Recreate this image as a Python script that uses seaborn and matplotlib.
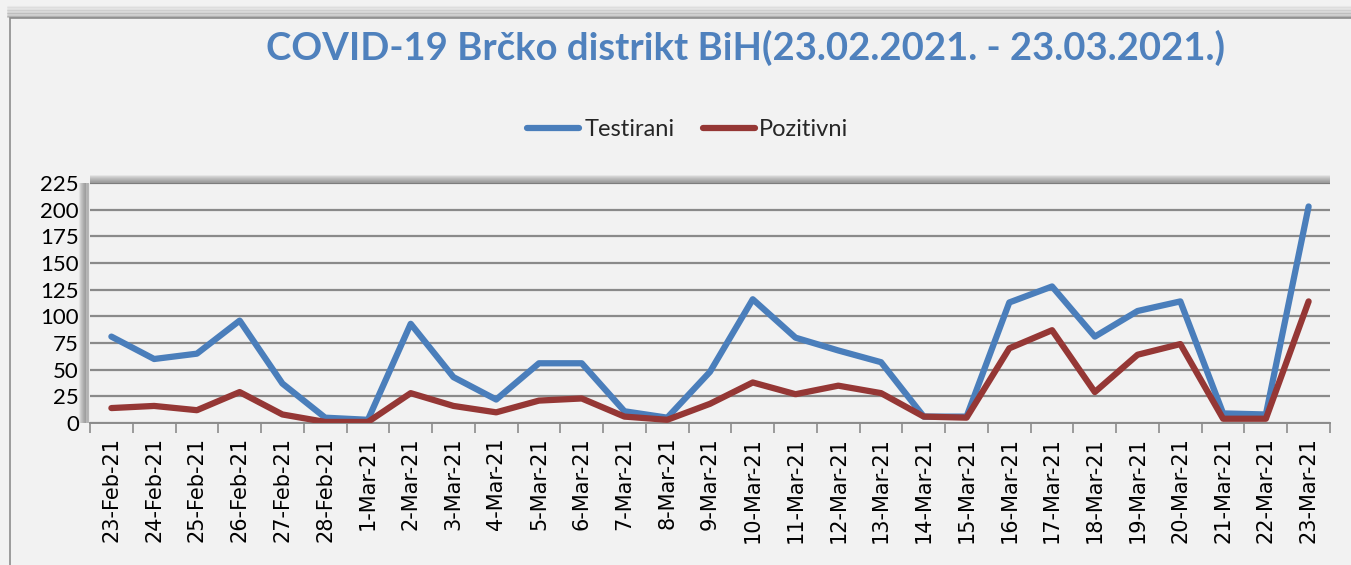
import numpy as np
import pandas as pd
import matplotlib.pyplot as plt
import matplotlib.patches as mpatches
import seaborn as sns

# data
dates = ["23-Feb-21", "24-Feb-21", "25-Feb-21", "26-Feb-21", "27-Feb-21", "28-Feb-21",
         "1-Mar-21", "2-Mar-21", "3-Mar-21", "4-Mar-21", "5-Mar-21", "6-Mar-21",
         "7-Mar-21", "8-Mar-21", "9-Mar-21", "10-Mar-21", "11-Mar-21", "12-Mar-21",
         "13-Mar-21", "14-Mar-21", "15-Mar-21", "16-Mar-21", "17-Mar-21", "18-Mar-21",
         "19-Mar-21", "20-Mar-21", "21-Mar-21", "22-Mar-21", "23-Mar-21"]
testirani = [81, 60, 65, 96, 37, 5, 3, 93, 43, 22, 56, 56, 11, 5, 48, 116, 80, 68,
             57, 6, 6, 113, 128, 81, 105, 114, 9, 8, 203]
pozitivni = [14, 16, 12, 29, 8, 1, 1, 28, 16, 10, 21, 23, 6, 3, 18, 38, 27, 35,
             28, 6, 5, 70, 87, 29, 64, 74, 4, 4, 114]
series_names = ["Testirani", "Pozitivni"]
colors = ["#4a7ebb", "#953735"]
y_ticks = [0, 25, 50, 75, 100, 125, 150, 175, 200, 225]

idx = np.arange(len(dates))
df = pd.concat([
    pd.DataFrame({"day": idx, "value": testirani, "serija": series_names[0]}),
    pd.DataFrame({"day": idx, "value": pozitivni, "serija": series_names[1]}),
])

sns.set_theme(style="white")
plt.rcParams['font.family'] = ['Lato', 'DejaVu Sans']

bg = "#f2f2f2"
fig = plt.figure(figsize=(13.51, 5.65), dpi=100, facecolor=bg)

# outer chart frame with a soft shadow on top
W, H = 1351, 565
fig.patches.append(mpatches.Rectangle((10 / W, -0.1), 1.2, 1 - 18 / H + 0.1,
                                      transform=fig.transFigure, fill=False,
                                      edgecolor="#8c8c8c", linewidth=1.2))
for i in range(8):
    y = 1 - (17 - i * 1.5) / H
    fig.lines.append(plt.Line2D([8 / W, 1], [y, y], transform=fig.transFigure,
                                color="#7f7f7f", alpha=0.35 - i * 0.04, linewidth=1.5))

ax = fig.add_axes([90 / W, 1 - 423 / H, 1240 / W, 240 / H])
ax.set_facecolor(bg)

# plot area shadow (left and top)
for i in range(8):
    a = 0.45 - i * 0.05
    ax.plot([-0.002 - i * 0.0009] * 2, [0, 1], transform=ax.transAxes, color="#6e6e6e",
            alpha=a, lw=1.6, clip_on=False, solid_capstyle="butt")
    ax.plot([0, 1], [1 + i * 0.004] * 2, transform=ax.transAxes, color="#6e6e6e",
            alpha=a, lw=1.4, clip_on=False, solid_capstyle="butt")

sns.lineplot(data=df, x="day", y="value", hue="serija", palette=colors,
             linewidth=4.5, ax=ax, legend=False, zorder=3)

ax.set_xlim(-0.5, len(dates) - 0.5)
ax.set_ylim(0, 225)
ax.set_yticks(y_ticks)
ax.set_yticklabels([str(t) for t in y_ticks], fontsize=16, color="black")

# labels on the category centres, tick marks on the category boundaries
ax.set_xticks(idx)
ax.set_xticklabels(dates, rotation=90, fontsize=15, fontfamily="DejaVu Sans", color="black")
ax.tick_params(axis="x", which="major", length=0, pad=10)
ax.set_xticks(np.arange(-0.5, len(dates), 1.0), minor=True)
ax.tick_params(axis="x", which="minor", length=7, width=1.2, color="#8c8c8c",
               direction="out", bottom=True)
ax.tick_params(axis="y", length=6, width=1.2, color="#8c8c8c", pad=2)
ax.grid(True, axis="y", color="#8a8a8a", linewidth=1.6)
ax.set_axisbelow(True)
for s in ["top", "right", "left"]:
    ax.spines[s].set_visible(False)
ax.spines["bottom"].set_color("#8c8c8c")
ax.spines["bottom"].set_linewidth(1.4)
ax.set_xlabel("")
ax.set_ylabel("")

fig.text(745 / W, 1 - 48 / H, "COVID-19 Brčko distrikt BiH(23.02.2021. - 23.03.2021.)",
         ha="center", va="center", fontsize=27.5, fontweight="bold", color="#4f81bd")

handles = [plt.Line2D([], [], color=c, lw=4.5) for c in colors]
fig.legend(handles, series_names, loc="center", bbox_to_anchor=(688 / W, 1 - 130 / H),
           ncol=2, frameon=False, fontsize=17, handlelength=2.2, handletextpad=0.2,
           columnspacing=1.2)

plt.savefig("out.png", dpi=100, facecolor=bg)
